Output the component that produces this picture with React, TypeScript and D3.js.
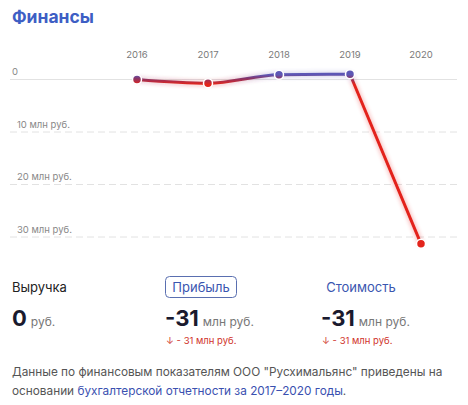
import React from "react";
import * as d3 from "d3";

const years = ["2016", "2017", "2018", "2019", "2020"];
const profit = [0, -0.72, 0.9, 1.0, -31.3];
const yTicks = [0, -10, -20, -30];
const yTickLabels = ["0", "10 млн руб.", "20 млн руб.", "30 млн руб."];

const W = 468;
const H = 405;
const FONT = "Inter, 'Noto Sans', sans-serif";

export default function App() {
  const x = d3.scalePoint<string>().domain(years).range([137, 421]);
  const y = d3.scaleLinear().domain([0, -30]).range([79.5, 237]);

  const curved = d3
    .line<number>()
    .x((_, i) => x(years[i]) as number)
    .y((d) => y(d))
    .curve(d3.curveMonotoneX);
  const straight = d3
    .line<number>()
    .x((_, i) => x(years[i + 3]) as number)
    .y((d) => y(d));

  const pathD = (curved(profit.slice(0, 4)) || "") + (straight(profit.slice(3)) || "").replace(/^M[^L]*/, "");

  return (
    <div style={{ position: "absolute", left: 0, top: 0 }}>
      <svg width={W} height={H} style={{ display: "block", fontFamily: FONT }}>
        <defs>
          <linearGradient id="lineGrad" gradientUnits="userSpaceOnUse" x1={0} x2={0} y1={y(0.9)} y2={y(-0.9)}>
            <stop offset="0" stopColor="#5d57b5" />
            <stop offset="0.4" stopColor="#8a3466" />
            <stop offset="1" stopColor="#e3241b" />
          </linearGradient>
          <filter id="glow" x="-20%" y="-20%" width="140%" height="140%">
            <feGaussianBlur in="SourceGraphic" stdDeviation="2.5" result="b" />
            <feComponentTransfer in="b" result="bo">
              <feFuncA type="linear" slope="0.45" />
            </feComponentTransfer>
            <feMerge>
              <feMergeNode in="bo" />
              <feMergeNode in="SourceGraphic" />
            </feMerge>
          </filter>
        </defs>

        <text x={12} y={23} fontSize={17.5} fontWeight={700} fill="#3d5ec4">
          Финансы
        </text>

        {years.map((yr) => (
          <text key={yr} x={x(yr)} y={58} fontSize={9.5} fill="#7a7a7a" textAnchor="middle">
            {yr}
          </text>
        ))}

        {yTicks.map((t, i) => (
          <g key={t}>
            <line
              x1={10}
              x2={457}
              y1={y(t)}
              y2={y(t)}
              stroke="#e2e2e2"
              strokeWidth={1}
              strokeDasharray={t === 0 ? undefined : "7 4"}
            />
            <text x={t === 0 ? 12 : 17} y={y(t) - 4.5} fontSize={9.5} fill="#888">
              {yTickLabels[i]}
            </text>
          </g>
        ))}

        <path d={pathD} fill="none" stroke="url(#lineGrad)" strokeWidth={3} filter="url(#glow)" strokeLinejoin="round" strokeLinecap="round" />
        {profit.map((v, i) => (
          <circle key={i} cx={x(years[i])} cy={y(v)} r={4.5} fill="url(#lineGrad)" stroke="#fff" strokeWidth={1.5} />
        ))}

        {/* Summary */}
        <text x={12} y={292} fontSize={13} fill="#222">Выручка</text>
        <text x={12} y={326} fill="#1a1a2e">
          <tspan fontSize={22} fontWeight={700}>0</tspan>
          <tspan fontSize={12} fill="#777" dx={4}>руб.</tspan>
        </text>

        <rect x={165.5} y={276.5} width={71} height={21} rx={4} fill="#fff" stroke="#5a6fb0" strokeWidth={1} />
        <text x={201} y={292} fontSize={13} fill="#3a56b0" textAnchor="middle">Прибыль</text>
        <text x={165} y={326} fill="#1a1a2e">
          <tspan fontSize={22} fontWeight={700}>-31</tspan>
          <tspan fontSize={12} fill="#777" dx={4}>млн руб.</tspan>
        </text>
        <text x={166} y={344} fontSize={9.5} fill="#d0342c">↓ - 31 млн руб.</text>

        <text x={361} y={292} fontSize={13} fill="#3a56b0" textAnchor="middle">Стоимость</text>
        <text x={321} y={326} fill="#1a1a2e">
          <tspan fontSize={22} fontWeight={700}>-31</tspan>
          <tspan fontSize={12} fill="#777" dx={4}>млн руб.</tspan>
        </text>
        <text x={322} y={344} fontSize={9.5} fill="#d0342c">↓ - 31 млн руб.</text>

        <text x={12} y={376} fontSize={11.8} fill="#555">
          Данные по финансовым показателям ООО "Русхимальянс" приведены на
        </text>
        <text x={12} y={395} fontSize={11.8} fill="#555">
          основании <tspan fill="#3a50b0">бухгалтерской отчетности за 2017–2020 годы</tspan>.
        </text>
      </svg>
    </div>
  );
}
